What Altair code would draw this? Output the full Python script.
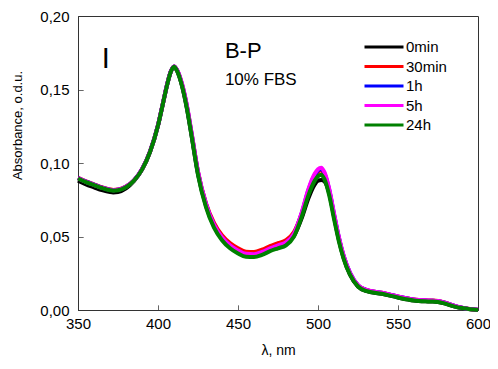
import altair as alt
import pandas as pd

# ---------------- data ----------------
wavelength = [350, 355, 360, 365, 370, 372, 375, 380, 385, 390,
              395, 400, 403, 406, 408, 410, 412, 415, 418, 421,
              425, 430, 435, 440, 445, 450, 455, 460, 465, 470,
              475, 480, 485, 490, 494, 498, 500, 502, 504, 507,
              510, 513, 516, 520, 525, 530, 540, 550, 560, 570,
              575, 580, 585, 590, 595, 600]

abs_0min = [0.0880, 0.0855, 0.0835, 0.0815, 0.0802, 0.0800, 0.0803, 0.0828, 0.0878, 0.0955,
            0.1075, 0.1255, 0.1400, 0.1545, 0.1620, 0.1655, 0.1625, 0.1525, 0.1375, 0.1185,
            0.0925, 0.0710, 0.0570, 0.0485, 0.0430, 0.0395, 0.0372, 0.0370, 0.0385, 0.0410,
            0.0430, 0.0450, 0.0505, 0.0630, 0.0760, 0.0855, 0.0880, 0.0885, 0.0875, 0.0795,
            0.0635, 0.0480, 0.0355, 0.0240, 0.0160, 0.0130, 0.0110, 0.0085, 0.0065, 0.0058,
            0.0055, 0.0042, 0.0025, 0.0013, 0.0005, 0.0000]

abs_30min = [0.0900, 0.0875, 0.0855, 0.0835, 0.0820, 0.0817, 0.0820, 0.0840, 0.0882, 0.0957,
             0.1077, 0.1257, 0.1402, 0.1547, 0.1622, 0.1657, 0.1630, 0.1535, 0.1388, 0.1200,
             0.0940, 0.0725, 0.0592, 0.0508, 0.0455, 0.0420, 0.0397, 0.0395, 0.0410, 0.0435,
             0.0455, 0.0475, 0.0530, 0.0660, 0.0805, 0.0910, 0.0940, 0.0950, 0.0920, 0.0810,
             0.0645, 0.0490, 0.0365, 0.0250, 0.0167, 0.0137, 0.0117, 0.0092, 0.0072, 0.0065,
             0.0062, 0.0048, 0.0030, 0.0016, 0.0007, 0.0001]

abs_1h = [0.0898, 0.0873, 0.0853, 0.0833, 0.0818, 0.0815, 0.0818, 0.0838, 0.0882, 0.0957,
          0.1077, 0.1257, 0.1402, 0.1547, 0.1622, 0.1657, 0.1630, 0.1535, 0.1388, 0.1198,
          0.0937, 0.0718, 0.0578, 0.0493, 0.0438, 0.0403, 0.0380, 0.0378, 0.0393, 0.0418,
          0.0438, 0.0458, 0.0518, 0.0665, 0.0815, 0.0920, 0.0950, 0.0960, 0.0930, 0.0818,
          0.0652, 0.0495, 0.0368, 0.0252, 0.0168, 0.0137, 0.0116, 0.0091, 0.0070, 0.0063,
          0.0060, 0.0047, 0.0029, 0.0015, 0.0006, 0.0001]

abs_5h = [0.0897, 0.0872, 0.0852, 0.0832, 0.0818, 0.0815, 0.0818, 0.0838, 0.0882, 0.0957,
          0.1077, 0.1257, 0.1402, 0.1547, 0.1622, 0.1657, 0.1632, 0.1540, 0.1395, 0.1205,
          0.0942, 0.0720, 0.0580, 0.0495, 0.0440, 0.0405, 0.0382, 0.0380, 0.0395, 0.0420,
          0.0440, 0.0460, 0.0520, 0.0670, 0.0822, 0.0928, 0.0958, 0.0968, 0.0938, 0.0825,
          0.0658, 0.0498, 0.0370, 0.0253, 0.0169, 0.0138, 0.0117, 0.0092, 0.0071, 0.0064,
          0.0061, 0.0047, 0.0029, 0.0015, 0.0006, 0.0001]

abs_24h = [0.0895, 0.0870, 0.0850, 0.0830, 0.0815, 0.0812, 0.0815, 0.0835, 0.0880, 0.0955,
           0.1075, 0.1255, 0.1400, 0.1545, 0.1620, 0.1655, 0.1625, 0.1525, 0.1375, 0.1185,
           0.0920, 0.0700, 0.0560, 0.0475, 0.0420, 0.0385, 0.0362, 0.0360, 0.0375, 0.0400,
           0.0420, 0.0440, 0.0500, 0.0640, 0.0780, 0.0880, 0.0910, 0.0920, 0.0890, 0.0780,
           0.0620, 0.0470, 0.0350, 0.0240, 0.0160, 0.0130, 0.0110, 0.0085, 0.0065, 0.0058,
           0.0055, 0.0042, 0.0025, 0.0013, 0.0005, 0.0000]

series_names = ["0min", "30min", "1h", "5h", "24h"]
series_values = [abs_0min, abs_30min, abs_1h, abs_5h, abs_24h]
series_colors = ["#000000", "#FF0000", "#0000FF", "#FF00FF", "#008000"]

x_ticks = [350, 375, 400, 425, 450, 475, 500, 525, 550, 575, 600]
y_ticks = [0.0, 0.025, 0.05, 0.075, 0.10, 0.125, 0.15, 0.175, 0.20]

ann_text = ["I", "B-P", "10% FBS"]
ann_x = [367.4, 441.8, 441.8]
ann_y = [0.1645, 0.1715, 0.1530]
ann_size = [29, 22, 17]
ann_align = ["center", "left", "left"]

# ---------------- build ----------------
rows = []
for name, vals in zip(series_names, series_values):
    for w, v in zip(wavelength, vals):
        rows.append({"wl": w, "A": v, "series": name})
df = pd.DataFrame(rows)

ann = pd.DataFrame({"text": ann_text, "x": ann_x, "y": ann_y,
                    "size": ann_size, "align": ann_align})

FONT = "Liberation Sans"

x_scale = alt.Scale(domain=[350, 600], nice=False, zero=False)
y_scale = alt.Scale(domain=[0, 0.2], nice=False)

minor_dash_x = {"condition": {"test": "datum.value % 50 != 0", "value": [3, 20]}, "value": [1, 0]}
minor_dash_y = {"condition": {"test": "round(datum.value * 1000) % 50 != 0", "value": [3, 20]}, "value": [1, 0]}

x_axis = alt.Axis(values=x_ticks, title="λ, nm",
                  labelExpr="datum.value % 50 == 0 ? datum.label : ''",
                  tickSize={"expr": "-5"}, tickDash=minor_dash_x,
                  labelPadding=11, labelFontSize=15, titleFontSize=14,
                  titlePadding=12, grid=False, labelFlush=False)
y_axis = alt.Axis(values=y_ticks, title="Absorbance, o.d.u.",
                  labelExpr="round(datum.value*1000) % 50 == 0 ? replace(format(datum.value, '.2f'), '.', ',') : ''",
                  tickSize={"expr": "-5"}, tickDash=minor_dash_y,
                  labelPadding=14, labelFontSize=15, titleFontSize=13,
                  titleAlign="center", titleBaseline="alphabetic", titleAngle=270,
                  titleX=-57, titleY=109, grid=False, labelFlush=False)

lines = alt.Chart(df).mark_line(strokeWidth=4, interpolate="monotone").encode(
    x=alt.X("wl:Q", scale=x_scale, axis=x_axis),
    y=alt.Y("A:Q", scale=y_scale, axis=y_axis),
    color=alt.Color("series:N", sort=series_names,
                    scale=alt.Scale(domain=series_names, range=series_colors),
                    legend=alt.Legend(title=None, orient="none", legendX=298, legendY=23,
                                      symbolType="M-3,0L3,0", symbolSize=169,
                                      symbolStrokeWidth=3, labelFontSize=15,
                                      labelOffset=14, rowPadding=3.5,
                                      labelColor="#000")),
)

texts_l = alt.Chart(ann[ann["align"] == "left"]).mark_text(
    baseline="alphabetic", align="left", color="#000", font=FONT).encode(
    x=alt.X("x:Q", scale=x_scale),
    y=alt.Y("y:Q", scale=y_scale),
    text="text:N",
    size=alt.Size("size:Q", scale=None, legend=None),
)
texts_c = alt.Chart(ann[ann["align"] == "center"]).mark_text(
    baseline="alphabetic", align="center", color="#000", font=FONT).encode(
    x=alt.X("x:Q", scale=x_scale),
    y=alt.Y("y:Q", scale=y_scale),
    text="text:N",
    size=alt.Size("size:Q", scale=None, legend=None),
)

chart = alt.layer(lines, texts_l, texts_c).properties(
    width=400, height=294,
    autosize=alt.AutoSizeParams(type="none"),
    padding={"left": 70, "top": 8, "right": 12, "bottom": 53},
).configure(font=FONT).configure_view(
    stroke="#333", strokeWidth=1
).configure_axis(
    domainColor="#333", tickColor="#333", labelColor="#000", titleColor="#000",
    titleFontWeight="normal", labelFont=FONT, titleFont=FONT, tickWidth=1
).configure_legend(labelFont=FONT)

chart.save("out.html", embed_options={"renderer": "svg", "actions": False})
